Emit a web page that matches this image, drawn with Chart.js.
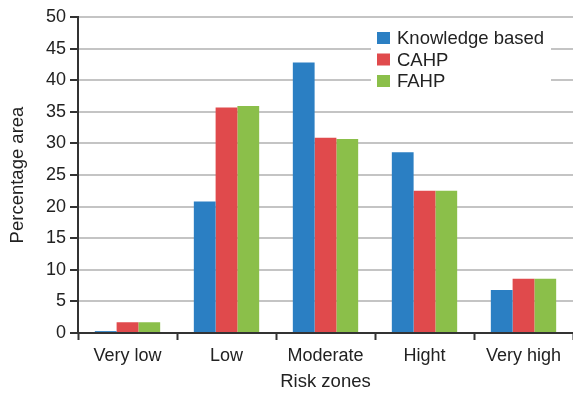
<!DOCTYPE html>
<html lang="en">
<head>
    <meta charset="UTF-8">
    <title>Risk zones</title>
    <script src="https://cdn.jsdelivr.net/npm/chart.js"></script>
    <style>
        body {
            margin: 0;
            padding: 0;
            background-color: #ffffff;
        }
        .chart-container {
            width: 573px;
            height: 397px;
        }
    </style>
</head>
<body>
<div class="chart-container">
    <canvas id="riskChart" width="573" height="397"></canvas>
</div>
<script>
    // data
    const zones = ['Very low', 'Low', 'Moderate', 'Hight', 'Very high'];
    const knowledgeBased = [0.3, 20.8, 42.8, 28.6, 6.8];
    const cahp = [1.7, 35.7, 30.9, 22.5, 8.6];
    const fahp = [1.7, 35.9, 30.7, 22.5, 8.6];
    const seriesNames = ['Knowledge based', 'CAHP', 'FAHP'];
    const yTicks = [0, 5, 10, 15, 20, 25, 30, 35, 40, 45, 50];

    const colors = ['#2b7fc3', '#e04a4c', '#8bbf4a'];
    const textColor = '#222';
    const fontName = '"Liberation Sans", Arial, sans-serif';

    // legend drawn inside the plot, top right, on a white box
    const boxLegend = {
        id: 'boxLegend',
        afterDatasetsDraw(chart) {
            const ctx = chart.ctx;
            const area = chart.chartArea;
            const x = area.left + 293;
            const y = area.top + 3;
            ctx.save();
            ctx.fillStyle = '#ffffff';
            ctx.fillRect(x, y, 180, 78);
            ctx.font = '18.5px ' + fontName;
            ctx.textBaseline = 'middle';
            chart.data.datasets.forEach(function (ds, i) {
                const cy = y + 18 + i * 21.5;
                ctx.fillStyle = ds.backgroundColor;
                ctx.fillRect(x + 6, cy - 6, 13, 12);
                ctx.fillStyle = textColor;
                ctx.fillText(ds.label, x + 26, cy + 1);
            });
            ctx.restore();
        }
    };

    const ctx = document.getElementById('riskChart').getContext('2d');
    const chart = new Chart(ctx, {
        type: 'bar',
        data: {
            labels: zones,
            datasets: [
                { label: seriesNames[0], data: knowledgeBased, backgroundColor: colors[0] },
                { label: seriesNames[1], data: cahp, backgroundColor: colors[1] },
                { label: seriesNames[2], data: fahp, backgroundColor: colors[2] }
            ]
        },
        options: {
            responsive: false,
            animation: false,
            layout: { padding: { top: 17, right: 0, left: 0, bottom: 0 } },
            datasets: {
                bar: { barPercentage: 1.0, categoryPercentage: 0.66 }
            },
            plugins: {
                legend: { display: false },
                tooltip: { enabled: false }
            },
            scales: {
                x: {
                    afterFit: function (s) { s.height = 64; },
                    grid: {
                        drawOnChartArea: false,
                        drawTicks: true,
                        tickLength: 7,
                        tickColor: '#333',
                        tickWidth: 2
                    },
                    border: { color: '#333', width: 2 },
                    ticks: {
                        color: textColor,
                        padding: 5,
                        font: { family: fontName, size: 18 }
                    },
                    title: {
                        display: true,
                        text: 'Risk zones',
                        color: textColor,
                        padding: { top: 4, bottom: 4 },
                        font: { family: fontName, size: 18.5 }
                    }
                },
                y: {
                    min: 0,
                    max: 50,
                    afterFit: function (s) { s.width = 78; },
                    afterBuildTicks: function (s) {
                        s.ticks = yTicks.map(function (v) { return { value: v }; });
                    },
                    grid: {
                        color: '#c4c4c4',
                        lineWidth: 2,
                        tickColor: '#333',
                        tickLength: 8,
                        tickWidth: 2
                    },
                    border: { color: '#333', width: 2 },
                    ticks: {
                        color: textColor,
                        padding: 4,
                        font: { family: fontName, size: 18 }
                    },
                    title: {
                        display: true,
                        text: 'Percentage area',
                        color: textColor,
                        padding: { top: 7, bottom: 7 },
                        font: { family: fontName, size: 18.5 }
                    }
                }
            }
        },
        plugins: [boxLegend]
    });
</script>
</body>
</html>
